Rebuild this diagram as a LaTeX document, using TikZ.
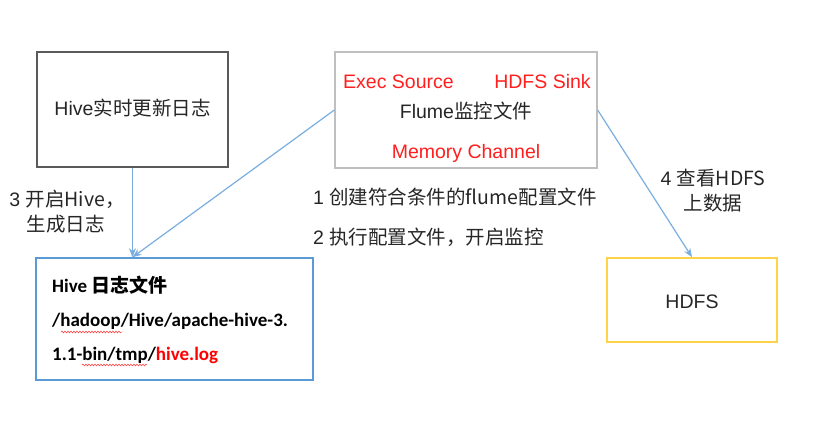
\documentclass[tikz,border=0pt]{standalone}
\usepackage{fontspec}
\setmainfont{Liberation Sans}
\newfontfamily\cjk{Noto Sans CJK SC}
\newfontfamily\cjkb{Noto Sans CJK SC Bold}
\newfontfamily\calfont{Carlito}
\usetikzlibrary{arrows.meta,decorations.pathmorphing}
\definecolor{txt}{HTML}{262626}
\definecolor{redtxt}{HTML}{FF1F1F}
\definecolor{conn}{HTML}{7AAEE0}
\definecolor{graybox}{HTML}{5A5A5A}
\definecolor{lightbox}{HTML}{BFBFBF}
\definecolor{bluebox}{HTML}{5B9BD5}
\definecolor{yellowbox}{HTML}{FFD347}
\tikzset{
  box/.style={draw, line width=1.3pt, inner sep=0pt},
  lbl/.style={anchor=base, inner sep=0pt, text=txt},
  lblw/.style={anchor=base west, inner sep=0pt, text=txt},
  redlbl/.style={anchor=base, inner sep=0pt, text=redtxt},
  connector/.style={draw=conn, line width=1.2pt, -{Stealth[length=9pt,width=7pt]}},
  squiggle/.style={draw=red!80, line width=0.5pt, decorate,
    decoration={snake, amplitude=0.9pt, segment length=3pt}}
}
\begin{document}
\begin{tikzpicture}[x=1pt, y=-1pt, font=\fontsize{19.5}{23}\selectfont]
\useasboundingbox (0,0) rectangle (831,424);
\fill[white] (0,0) rectangle (831,424);

% boxes
\node[box, draw=graybox, minimum width=191pt, minimum height=115pt] (hive) at (132.5,109.5) {};
\node[box, draw=lightbox, minimum width=262pt, minimum height=116pt] (flume) at (466,110) {};
\node[box, draw=bluebox, line width=1.6pt, minimum width=277pt, minimum height=122pt] (log) at (174.5,319) {};
\node[box, draw=yellowbox, line width=1.6pt, minimum width=170pt, minimum height=84pt] (hdfs) at (692,300) {};

% texts in boxes
\node[lbl] (hivetxt) at (132.5,115) {Hive\cjk{实时更新日志}};
\node[redlbl] (execsrc) at (398.5,88) {Exec Source};
\node[redlbl] (hdfssink) at (542.5,88) {HDFS Sink};
\node[lbl] (flumetxt) at (466,118) {Flume\cjk{监控文件}};
\node[redlbl] (memch) at (466,158) {Memory Channel};
\node[lbl] (hdfstxt) at (692,308) {HDFS};

\begin{scope}[font=\fontsize{19}{23}\calfont\bfseries]
\node[lblw, text=black] (log1) at (52,292) {Hive \cjkb{日志文件}};
\node[lblw, text=black] (log2) at (52,326) {/hadoop/Hive/apache-hive-3.};
\node[lblw, text=black] (log3) at (52,360) {1.1-bin/tmp/\textcolor{red}{hive.log}};
\end{scope}
\draw[squiggle] (61,332) -- (122,332);
\draw[squiggle] (82,365) -- (147,365);

% connectors
\coordinate (login) at (log.north -| hive.south);
\draw[connector] (hive.south) -- (login);
\draw[connector] (flume.west) -- (login);
\draw[connector] (flume.east) -- (hdfs.north);

% step labels
\node[lbl] (s3a) at (67,206) {3 \cjk{开启}Hive\cjk{，}};
\node[lbl] (s3b) at (66,231) {\cjk{生成日志}};
\node[lblw] (s1) at (313,204) {1 \cjk{创建符合条件的}flume\cjk{配置文件}};
\node[lblw] (s2) at (313,244) {2 \cjk{执行配置文件，开启监控}};
\node[lbl] (s4a) at (713,185) {4 \cjk{查看}HDFS};
\node[lbl] (s4b) at (713,210) {\cjk{上数据}};
\end{tikzpicture}
\end{document}
